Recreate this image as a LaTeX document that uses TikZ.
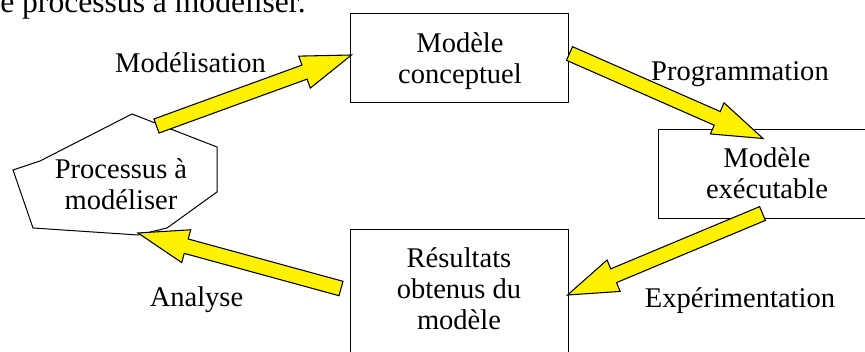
\documentclass[tikz,border=0pt]{standalone}
\usepackage{fontspec}
\setmainfont{Liberation Serif}
\usetikzlibrary{calc}

% block arrow from tail centre #1 to tip #2
\newcommand\blockarrow[2]{%
  \coordinate (hb) at ($(#2)!37.5pt!(#1)$);
  \draw[yarrow]
    ($(#1)!5.6pt!90:(#2)$) -- ($(hb)!5.6pt!90:(#2)$) --
    ($(hb)!12.75pt!90:(#2)$) -- (#2) --
    ($(hb)!12.75pt!-90:(#2)$) -- ($(hb)!5.6pt!-90:(#2)$) --
    ($(#1)!5.6pt!-90:(#2)$) -- cycle;}

\begin{document}
\begin{tikzpicture}[x=0.75pt, y=-0.75pt,
  box/.style={draw=black, line width=0.75pt, minimum width=163.5pt,
    minimum height=66.75pt, inner sep=0pt},
  lbl/.style={align=center, inner sep=0pt, font=\fontsize{21.4pt}{23.25pt}\selectfont},
  yarrow/.style={draw=black, fill=yellow, line width=0.8pt, line join=miter}]
\useasboundingbox (0,0) rectangle (865,352);
\clip (0,0) rectangle (865,352);

% running text above the figure
\node[anchor=base west, inner sep=0pt, font=\fontsize{23.7pt}{28pt}\selectfont]
  (toptext) at (0,13) {e processus à modéliser.};

% process outline
\coordinate (p1) at (13,170);
\coordinate (p2) at (40,161);
\coordinate (p3) at (132,114);
\coordinate (p4) at (217,147);
\coordinate (p5) at (217,192);
\coordinate (p6) at (167,228);
\coordinate (p7) at (138,235);
\coordinate (p8) at (33,228);
\draw[black, line width=0.75pt, line join=miter]
  (p1) -- (p2) -- (p3) -- (p4) -- (p5) -- (p6) -- (p7) -- (p8) -- cycle;
\node[lbl] (proc) at (121,184.3) {Processus à\\modéliser};

% boxes
\node[box] (conc) at (459,58.5) {};
\node[lbl] (conctext) at (460,61) {Modèle\\conceptuel};
\node[box] (exec) at (767,174.5) {};
\node[lbl] (exectext) at (767,173.5) {Modèle\\exécutable};
\node[box, minimum height=94.5pt] (res) at (459,293) {};
\node[lbl] (restext) at (459,288.6) {Résultats\\obtenus du\\modèle};

% arrow ends
\coordinate (a1) at (156.5,126);
\coordinate (b1) at ($(conc.west)+(2,-3.5)$);
\coordinate (a2) at ($(conc.east)+(1,-5)$);
\coordinate (b2) at ($(exec.north)+(-4,9)$);
\coordinate (a3) at ($(exec.south)+(-4.5,-6)$);
\coordinate (b3) at ($(res.east)+(-1,2)$);
\coordinate (a4) at ($(res.west)+(-8.5,-4.5)$);
\coordinate (b4) at ($(p7)+(0,-2)$);

\blockarrow{a1}{b1}
\blockarrow{a2}{b2}
\blockarrow{a3}{b3}
\blockarrow{a4}{b4}

% arrow labels
\node[lbl, anchor=base] (lmod) at (190.5,73) {Modélisation};
\node[lbl, anchor=base] (lprog) at (740,81) {Programmation};
\node[lbl, anchor=base] (lexp) at (740,308) {Expérimentation};
\node[lbl, anchor=base] (lana) at (196.5,307) {Analyse};
\end{tikzpicture}
\end{document}
